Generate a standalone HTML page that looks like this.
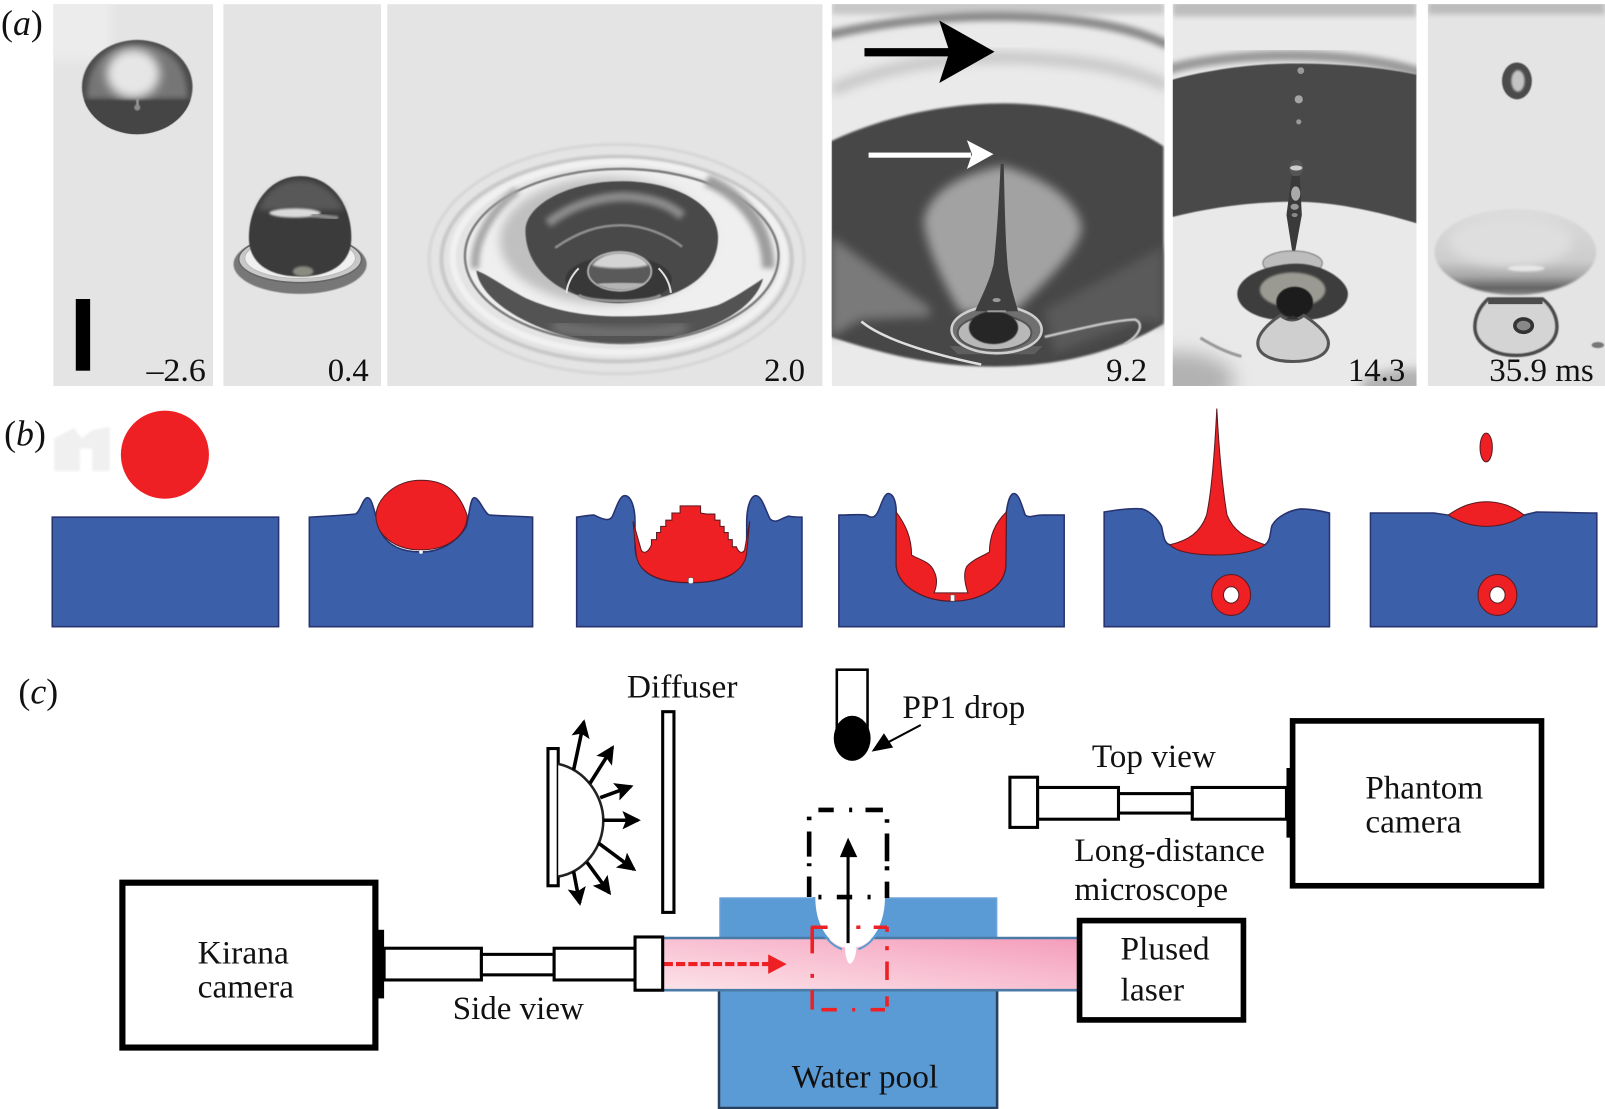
<!DOCTYPE html>
<html lang="en"><head><meta charset="utf-8"><title>Drop impact figure</title>
<style>
html,body{margin:0;padding:0;background:#fff;width:1605px;height:1109px;overflow:hidden}
svg{display:block}
text{font-family:"Liberation Serif",serif;fill:#111}
.n{font-size:32px;text-anchor:end}
.l{font-size:32px}
.p{font-size:35px}
.b{fill:#3c5fa9;stroke:#27336f;stroke-width:1.5}
.r{fill:#ee2024;stroke:#5a1a22;stroke-width:1}
.k{fill:#fff;stroke:#000;stroke-width:3}
</style></head><body>
<svg width="1605" height="1109" viewBox="0 0 1567 1083" preserveAspectRatio="none" xmlns="http://www.w3.org/2000/svg">
<defs>
<filter id="b05" x="-20%" y="-20%" width="140%" height="140%"><feGaussianBlur stdDeviation="0.6"/></filter>
<filter id="b1" x="-20%" y="-20%" width="140%" height="140%"><feGaussianBlur stdDeviation="1"/></filter>
<filter id="b2" x="-30%" y="-30%" width="160%" height="160%"><feGaussianBlur stdDeviation="2.5"/></filter>
<filter id="b3" x="-30%" y="-30%" width="160%" height="160%"><feGaussianBlur stdDeviation="5"/></filter>
<filter id="b4" x="-40%" y="-40%" width="180%" height="180%"><feGaussianBlur stdDeviation="9"/></filter>
<clipPath id="c1"><rect x="52" y="4" width="156" height="373"/></clipPath>
<clipPath id="c1d"><ellipse cx="134" cy="85" rx="54" ry="46"/></clipPath>
<clipPath id="c2"><rect x="218" y="4" width="154" height="373"/></clipPath>
<clipPath id="c3"><rect x="378" y="4" width="425" height="373"/></clipPath>
<clipPath id="c3h"><ellipse cx="607" cy="235" rx="94" ry="60"/></clipPath>
<clipPath id="c4"><rect x="812" y="4" width="325" height="373"/></clipPath>
<clipPath id="c5"><rect x="1145" y="4" width="238" height="373"/></clipPath>
<clipPath id="c6"><rect x="1394" y="4" width="173" height="373"/></clipPath>
<linearGradient id="pink" x1="0" y1="1" x2="1" y2="0"><stop offset="0" stop-color="#fce3ea"/><stop offset="0.55" stop-color="#f8bdd0"/><stop offset="1" stop-color="#f49dba"/></linearGradient>
<linearGradient id="d6" x1="0" y1="0" x2="0" y2="1"><stop offset="0" stop-color="#dcdcdc"/><stop offset="0.6" stop-color="#cdcdcd"/><stop offset="0.78" stop-color="#a8a8a8"/><stop offset="0.92" stop-color="#626262"/><stop offset="1" stop-color="#8a8a8a"/></linearGradient>
<marker id="ah" viewBox="0 0 10 10" refX="8.5" refY="5" markerUnits="userSpaceOnUse" markerWidth="18" markerHeight="18" orient="auto"><path d="M0 0L10 5L0 10L2 5Z" fill="#000"/></marker>
</defs>
<rect width="1567" height="1083" fill="#fff"/>

<!-- panel a -->
<g clip-path="url(#c1)">
<rect x="52" y="4" width="156" height="373" fill="#e4e4e4"/>
<rect x="44" y="-4" width="64" height="62" fill="#ececec" filter="url(#b3)"/>
<ellipse cx="134" cy="85" rx="54" ry="46" fill="#4c4c4c" filter="url(#b05)"/>
<g clip-path="url(#c1d)">
<path d="M85 96C85 60 105 44 134 44C163 44 183 60 183 96Z" fill="#767676" filter="url(#b2)"/>
<ellipse cx="130" cy="72" rx="26" ry="24" fill="#e6e6e6" filter="url(#b3)"/>
<rect x="76" y="98" width="116" height="40" fill="#454545" filter="url(#b1)"/>
<ellipse cx="134" cy="105" rx="3" ry="3" fill="#8c8c8c" filter="url(#b05)"/>
<rect x="133" y="96" width="2.5" height="7" fill="#999" filter="url(#b05)"/>
</g>
<rect x="74" y="292" width="14" height="70" fill="#000"/>
</g>
<g clip-path="url(#c2)">
<rect x="218" y="4" width="154" height="373" fill="#e4e4e4"/>
<ellipse cx="293" cy="258" rx="65" ry="29" fill="#777" filter="url(#b05)"/>
<ellipse cx="293" cy="253" rx="60" ry="23" fill="#c8c8c8" stroke="#666" stroke-width="1.5"/>
<ellipse cx="293" cy="252" rx="54" ry="20" fill="#f0f0f0" stroke="#bbb" stroke-width="1"/>
<path d="M243 232C243 198 265 172 293 172C322 172 343 198 343 232C343 258 322 270 293 270C264 270 243 258 243 232Z" fill="#3b3b3b" filter="url(#b05)"/>
<path d="M252 205C262 182 278 176 293 176C308 176 326 185 336 205Z" fill="#585858" filter="url(#b2)"/>
<ellipse cx="288" cy="208" rx="25" ry="4.5" fill="#dadada" filter="url(#b1)"/>
<path d="M304 210L330 213" stroke="#8c8c8c" stroke-width="4" filter="url(#b1)"/>
<ellipse cx="296" cy="265" rx="10" ry="5" fill="#8a8a80" filter="url(#b1)"/>
</g>
<g clip-path="url(#c3)">
<rect x="378" y="4" width="425" height="373" fill="#e4e4e4"/>
<ellipse cx="602" cy="253" rx="183" ry="112" fill="none" stroke="#d6d6d6" stroke-width="3" filter="url(#b1)"/>
<ellipse cx="602" cy="253" rx="171" ry="100" fill="none" stroke="#c8c8c8" stroke-width="4" filter="url(#b1)"/>
<ellipse cx="604" cy="251" rx="162" ry="93" fill="none" stroke="#f1f1f1" stroke-width="6" filter="url(#b1)"/>
<ellipse cx="607" cy="250" rx="153" ry="85" fill="#efefef" stroke="#7d7d7d" stroke-width="2.5" filter="url(#b05)"/>
<path d="M690 176C728 192 750 225 750 262" fill="none" stroke="#9d9d9d" stroke-width="12" filter="url(#b2)"/>
<path d="M505 186C480 205 462 235 464 262" fill="none" stroke="#a4a4a4" stroke-width="8" filter="url(#b2)"/>
<path d="M465 264C470 300 540 335 604 335C670 335 735 310 745 272C730 282 715 292 701 298C670 307 635 309 604 309C570 309 540 303 513 291C495 282 480 270 465 264Z" fill="#525252" filter="url(#b05)"/>
<path d="M540 318C580 328 640 328 670 319" fill="none" stroke="#7c7c7c" stroke-width="9" filter="url(#b3)"/>
<ellipse cx="592" cy="235" rx="104" ry="62" fill="#c0c0c0" filter="url(#b3)"/>
<path d="M513 225C513 200 555 177 607 177C660 177 701 200 701 232C701 268 665 295 607 295C550 295 513 265 513 225Z" fill="#4a4a4a" filter="url(#b05)"/>
<g clip-path="url(#c3h)">
<path d="M535 218C560 198 590 192 610 192C635 193 655 200 666 211" fill="none" stroke="#8c8c8c" stroke-width="9" filter="url(#b2)"/>
<path d="M542 242C565 226 585 220 606 220C630 220 652 230 666 241" fill="none" stroke="#8e8e8e" stroke-width="2.5" filter="url(#b05)"/>
</g>
<ellipse cx="604" cy="273" rx="52" ry="23" fill="#383838" filter="url(#b05)"/>
<path d="M553 286C554 277 558 269 565 262M655 286C654 277 650 269 643 262" fill="none" stroke="#e0e0e0" stroke-width="2"/>
<path d="M565 288C575 296 635 296 645 288" fill="none" stroke="#8f8f8f" stroke-width="3" filter="url(#b05)"/>
<ellipse cx="605" cy="265" rx="31" ry="19" fill="#5a5a5a" stroke="#bdbdbd" stroke-width="1.5" filter="url(#b05)"/>
<path d="M578 259C585 250 595 247 605 247C617 247 628 251 633 259C620 263 590 263 578 259Z" fill="#d4d4d4" filter="url(#b1)"/>
<path d="M583 277C595 285 618 285 630 277C620 276 595 276 583 277Z" fill="#b4b4b4" filter="url(#b05)"/>
</g>
<g clip-path="url(#c4)">
<rect x="812" y="4" width="325" height="373" fill="#eaeaea"/>
<rect x="812" y="0" width="325" height="14" fill="#c8c8c8" filter="url(#b2)"/>
<path d="M810 34C870 20 925 16 971 16C1040 16 1100 24 1140 44" fill="none" stroke="#8a8a8a" stroke-width="9" filter="url(#b2)"/>
<path d="M812 88C870 62 930 56 985 56C1050 58 1100 65 1140 84" fill="none" stroke="#c6c6c6" stroke-width="11" filter="url(#b3)"/>
<path d="M811 138C860 115 920 101 981 101C1040 101 1100 118 1136 143V316C1090 345 1030 358 971 358C910 358 860 345 811 329Z" fill="#474747" filter="url(#b1)"/>
<path d="M811 231L906 299L909 309L841 312L811 329Z" fill="#7a7a7a" filter="url(#b3)"/>
<path d="M1136 241L1020 303L1030 345L1117 312L1136 316Z" fill="#5a5a5a" filter="url(#b3)"/>
<path d="M978 162C940 170 908 185 902 215C903 240 925 285 938 305L990 305C1010 285 1056 245 1056 221C1050 190 1010 170 978 162Z" fill="#a2a2a2" filter="url(#b3)"/>
<path d="M841 314C860 330 905 345 958 356" fill="none" stroke="#dedede" stroke-width="2.5"/>
<path d="M1020 329C1050 322 1085 313 1108 312C1118 316 1112 328 1098 336" fill="none" stroke="#c4c4c4" stroke-width="2.5" filter="url(#b05)"/>
<path d="M927 338L1018 338L1010 346L935 346Z" fill="#5e5e5e"/>
<ellipse cx="973" cy="322" rx="44" ry="23" fill="#707070" stroke="#cfcfcf" stroke-width="2.5"/>
<ellipse cx="971" cy="325" rx="36" ry="17" fill="#b8b8b8" stroke="#555" stroke-width="2"/>
<ellipse cx="970" cy="320" rx="24" ry="16" fill="#272727" filter="url(#b05)"/>
<path d="M977 160L980 160C981 210 982 240 984 262C986 278 990 290 994 304L952 304C958 290 966 275 970 258C973 235 975 200 977 160Z" fill="#3f3f3f"/>
<ellipse cx="973" cy="293" rx="4" ry="2" fill="#999"/><rect x="964" y="303" width="18" height="2" fill="#999"/>
<path d="M844 47H927V55H844Z" fill="#000"/>
<path d="M917 20L971 50.5L917 81L927 50.5Z" fill="#000"/>
<rect x="848" y="149" width="100" height="5" fill="#fff"/>
<path d="M944 137L970 150.5L944 165L949 150.5Z" fill="#fff"/>
</g>
<g clip-path="url(#c5)">
<rect x="1145" y="4" width="238" height="373" fill="#e9e9e9"/>
<rect x="1145" y="0" width="238" height="16" fill="#bdbdbd" filter="url(#b2)"/>
<path d="M1140 68C1200 50 1320 48 1390 72" fill="none" stroke="#9a9a9a" stroke-width="10" filter="url(#b2)"/>
<path d="M1144 78C1180 68 1225 62 1264 62C1310 62 1350 66 1383 73V218C1340 205 1300 197 1264 197C1220 197 1180 203 1144 212Z" fill="#484848" filter="url(#b05)"/>
<ellipse cx="1150" cy="372" rx="55" ry="28" fill="#b2b2b2" filter="url(#b4)"/>
<ellipse cx="1378" cy="378" rx="50" ry="18" fill="#b2b2b2" filter="url(#b3)"/>
<path d="M1172 330C1185 338 1200 345 1212 348" stroke="#9a9a9a" stroke-width="3" fill="none" filter="url(#b05)"/>
<circle cx="1270" cy="69" r="3.3" fill="#999"/><circle cx="1268" cy="97" r="4" fill="#a4a4a4"/><circle cx="1268" cy="119" r="2.5" fill="#999"/>
<path d="M1261 172L1269 172L1271 210L1263.5 251L1262.5 251L1256 210Z" fill="#3a3a3a"/>
<ellipse cx="1265.5" cy="164" rx="7" ry="8" fill="#555"/><ellipse cx="1265.5" cy="164" rx="6" ry="2.5" fill="#ccc"/>
<ellipse cx="1265" cy="189" rx="4.5" ry="7" fill="#aaa"/>
<ellipse cx="1264" cy="202" rx="4" ry="3" fill="#999"/><ellipse cx="1264" cy="210" rx="3" ry="2" fill="#888"/>
<ellipse cx="1262" cy="257" rx="29" ry="12" fill="#bdbdbd" stroke="#777" filter="url(#b05)"/>
<path d="M1236 262C1260 256 1272 256 1290 262C1305 268 1316 278 1316 287C1316 300 1300 310 1280 312L1244 312C1224 310 1208 300 1208 287C1208 276 1220 267 1236 262Z" fill="#3e3e3e" filter="url(#b05)"/>
<ellipse cx="1262" cy="283" rx="32" ry="17" fill="#9a9a92" filter="url(#b1)"/>
<ellipse cx="1264" cy="295" rx="18" ry="15" fill="#1f1f1f" filter="url(#b05)"/>
<path d="M1250 308C1238 316 1228 326 1228 335C1228 348 1245 353 1262 353C1280 353 1297 348 1297 335C1297 326 1285 316 1273 308C1265 314 1258 314 1250 308Z" fill="#cfcfcf" stroke="#555" stroke-width="3"/>
<path d="M1255 312L1262 308L1269 312Z" fill="#333"/>
</g>
<g clip-path="url(#c6)">
<rect x="1394" y="4" width="173" height="373" fill="#e4e4e4"/>
<rect x="1394" y="0" width="173" height="14" fill="#bcbcbc" filter="url(#b2)"/>
<ellipse cx="1481" cy="79" rx="14.6" ry="18" fill="#4c4c4c" filter="url(#b05)"/>
<ellipse cx="1482" cy="79" rx="6.5" ry="10.5" fill="#c4c4c4" filter="url(#b1)"/>
<ellipse cx="1479.5" cy="246" rx="79" ry="42" fill="url(#d6)" filter="url(#b1)"/>
<ellipse cx="1475" cy="236" rx="60" ry="24" fill="#dedede" filter="url(#b3)"/>
<ellipse cx="1490" cy="262" rx="18" ry="3" fill="#e6e6e6" filter="url(#b1)"/>
<path d="M1453 292H1506C1515 299 1520 309 1520 319C1520 336 1502 347 1480 347C1458 347 1440 336 1440 319C1440 309 1445 299 1453 292Z" fill="#d4d4d4" stroke="#4c4c4c" stroke-width="3.5" filter="url(#b05)"/>
<rect x="1453" y="291" width="53" height="6" fill="#4c4c4c"/>
<ellipse cx="1487.5" cy="318" rx="8.5" ry="6.5" fill="#888" stroke="#333" stroke-width="3.5"/>
<ellipse cx="1560" cy="337" rx="6" ry="3" fill="#777" filter="url(#b05)"/>
</g>
<text class="n" x="201" y="372" textLength="58" lengthAdjust="spacingAndGlyphs">–2.6</text>
<text class="n" x="360" y="372">0.4</text>
<text class="n" x="786" y="372">2.0</text>
<text class="n" x="1120" y="372">9.2</text>
<text class="n" x="1372" y="372">14.3</text>
<text x="1454" y="372" font-size="32" textLength="102" lengthAdjust="spacingAndGlyphs">35.9 ms</text>
<text class="p" x="1" y="34">(<tspan font-style="italic">a</tspan>)</text>
<text class="p" x="4" y="435">(<tspan font-style="italic">b</tspan>)</text>
<text class="p" x="18" y="687">(<tspan font-style="italic">c</tspan>)</text>

<!-- panel b -->
<path d="M53 460V428L72 418L80 428L90 420L107 417V460H90V438H78V460Z" fill="#f0f0f0" filter="url(#b1)"/>
<circle cx="161" cy="444" r="43" fill="#ee2024"/>
<rect class="b" x="51" y="505" width="221" height="107"/>

<path class="b" d="M302 505C320 504 340 503 347 502C352 500 354 486 359 486C364 486 366 505 372 520C380 535 395 539 411 539C430 539 445 530 455 515C458 505 459 486 463 486C468 486 473 502 478 503C490 504 505 504 520 505V612H302Z"/>
<path class="r" d="M411 469C435 469 448 480 456 503C457 520 440 537 411 537C385 537 367 522 367 504C367 488 385 469 411 469Z"/>
<circle cx="411" cy="539" r="1.8" fill="#fff"/>

<path class="b" d="M563 505C570 504 576 503 580 503C588 507 595 510 598 504C602 495 605 484 610 484C616 484 620 495 620 510L620 535C622 560 640 569 674 569C708 569 727 560 729 535L729 510C729 495 733 484 738 484C744 484 748 500 752 507C758 512 762 506 770 504C775 505 780 505 783 505V612H563Z"/>
<path class="r" d="M618 509L621 540C622 558 640 569 674 569C708 569 727 558 729 540L732 509L727 537C725 541 721 540 719 534H715V527H711V520H707V514H703V508H698V502H690L684 501V494H664V501H656V508H650V514H645V520H641V527H636V532C633 540 628 541 626 537Z"/>
<rect x="672" y="564" width="5" height="6" rx="2" fill="#fff" stroke="#555" stroke-width=".6"/>

<path class="b" d="M819 503C830 503 840 502 846 503C852 507 855 505 858 498C861 490 864 482 867 482C873 482 875 492 875 500L875 553C878 575 905 587 929 587C955 587 980 575 982 553L982.5 500C984 490 986 482 990 482C995 482 998 495 1001 503C1006 507 1010 502 1020 503C1028 503 1034 503 1039 503V612H819Z"/>
<path class="r" d="M875 500C884 512 890 525 890 542C898 547 908 548 912 558C916 566 914 574 912 579H945C942 570 940 560 944 553C950 546 960 543 966 539C966 525 970 512 982.5 500L982 553C980 575 955 587 929 587C905 587 878 575 875 553Z"/>
<rect x="928" y="581" width="4" height="6" fill="#fff" stroke="#555" stroke-width=".5"/>

<path class="b" d="M1078 500C1090 498 1105 496 1115 497C1122 499 1130 506 1134 514C1136 522 1136 530 1142 532L1235 532C1241 528 1240 518 1242 513C1247 504 1260 498 1270 497C1280 497 1290 499 1298 501V612H1078Z"/>
<path class="r" d="M1188 399C1186 440 1183 480 1178 503C1172 520 1160 528 1142 532C1150 540 1170 542 1188 542C1208 542 1228 538 1235 532C1215 525 1204 518 1198 503C1194 480 1190 440 1188 399Z"/>
<ellipse class="r" cx="1202" cy="581" rx="19" ry="20"/>
<ellipse cx="1202" cy="581" rx="7.5" ry="8" fill="#fff" stroke="#5a1a22"/>

<path class="b" d="M1338 501H1400L1414 503L1488 503L1500 500C1520 500 1540 501 1559 501V612H1338Z"/>
<path class="r" d="M1414 503C1425 495 1438 490 1451 490C1465 490 1478 495 1488 503C1478 510 1465 514 1451 514C1438 514 1425 510 1414 503Z"/>
<ellipse class="r" cx="1451" cy="437" rx="6" ry="14"/>
<ellipse class="r" cx="1462" cy="581" rx="19" ry="20"/>
<ellipse cx="1462" cy="581" rx="7.5" ry="8" fill="#fff" stroke="#5a1a22"/>

<!-- panel c -->
<rect x="703" y="877" width="270" height="205" fill="#5b9bd5" stroke="#6aa2d8" stroke-width="1.5"/>
<path d="M702 915V1082H973.5V915" fill="none" stroke="#27405f" stroke-width="2.5"/>
<rect x="647" y="916" width="406" height="51" fill="url(#pink)"/>
<path d="M647 916H1053M647 967H1053" stroke="#4a7ba7" stroke-width="2.5"/>
<path d="M795 876C795 900 810 925 825 925C825 935 828 941 830 941C832 941 836 935 836 925C850 925 866 900 865 876Z" fill="#fff"/>
<path d="M795 876C795 900 805 921 822 927M865 876C865 900 855 921 838 927" fill="none" stroke="#5b9bd5" stroke-width="2"/>
<path d="M790 797.5V801M790 812V836.5M790 843V846M790 856V876M866 800V803.5M866 814V841M866 846V850M866 861V877M799 791H814M829 791H832M845 791H862M799 876H802M817 876H832M847 876H850" fill="none" stroke="#000" stroke-width="4.5"/>
<path d="M793 905V931M793 951V955M793 967V986M866 905V910M866 924V928M866 939V957M866 973V983M792 905.5H808M836 905.5H840M853 905.5H866M802 986H817M832 986H835M850 986H864" fill="none" stroke="#ee2024" stroke-width="3.5"/>
<path d="M828 921V832" stroke="#000" stroke-width="3"/>
<path d="M820 837L828 818L837 837Z" fill="#000"/>
<path d="M648 941.5H752" stroke="#ee2024" stroke-width="4" stroke-dasharray="9 3"/>
<path d="M750 932L768 941.5L750 951Z" fill="#ee2024"/>

<rect x="119.500" y="862" width="247" height="161" fill="#fff" stroke="#000" stroke-width="6"/>
<rect x="367" y="908" width="8" height="67" fill="#000"/>
<rect class="k" x="375" y="926" width="95" height="31"/>
<rect class="k" x="470" y="932" width="71" height="20"/>
<rect class="k" x="541" y="926" width="79" height="31"/>
<rect class="k" x="620" y="915" width="27" height="52"/>

<rect x="1262" y="704" width="243" height="161" fill="#fff" stroke="#000" stroke-width="5.5"/>
<rect x="1256" y="750" width="6" height="68" fill="#000"/>
<rect class="k" x="1164" y="769" width="92" height="31"/>
<rect class="k" x="1092" y="775" width="72" height="19"/>
<rect class="k" x="1013" y="769" width="79" height="31"/>
<rect class="k" x="986" y="759" width="27" height="49"/>

<rect x="1054" y="899" width="160" height="97" fill="#fff" stroke="#000" stroke-width="5.5"/>

<rect class="k" x="535" y="731" width="10" height="134" stroke-width="2.5"/>
<path d="M545 746C572 752 589 778 589 801C589 828 570 852 545 856" fill="#fff" stroke="#222" stroke-width="2.5"/>
<g stroke="#000" stroke-width="3.5" fill="none">
<path d="M560 752L570 705" marker-end="url(#ah)"/>
<path d="M576 765L598 730" marker-end="url(#ah)"/>
<path d="M586 779L616 768" marker-end="url(#ah)"/>
<path d="M589 801L623 801" marker-end="url(#ah)"/>
<path d="M584 823L619 849" marker-end="url(#ah)"/>
<path d="M573 842L595 872" marker-end="url(#ah)"/>
<path d="M560 851L566 882" marker-end="url(#ah)"/>
</g>
<rect class="k" x="647" y="695" width="11" height="196"/>
<rect x="817" y="654" width="30" height="66" fill="#fff" stroke="#000" stroke-width="2.5"/>
<ellipse cx="832" cy="721" rx="18" ry="22" fill="#000"/>
<path d="M899 708L865 726" stroke="#000" stroke-width="2"/>
<path d="M851 734L863 716L872 730Z" fill="#000"/>

<text class="l" x="612" y="681" textLength="108" lengthAdjust="spacingAndGlyphs">Diffuser</text>
<text class="l" x="881" y="701" textLength="120" lengthAdjust="spacingAndGlyphs">PP1 drop</text>
<text class="l" x="1066" y="749" textLength="121" lengthAdjust="spacingAndGlyphs">Top view</text>
<text class="l" x="1049" y="841" textLength="186" lengthAdjust="spacingAndGlyphs">Long-distance</text>
<text class="l" x="1049" y="879" textLength="150" lengthAdjust="spacingAndGlyphs">microscope</text>
<text class="l" x="1333" y="780" textLength="115" lengthAdjust="spacingAndGlyphs">Phantom</text>
<text class="l" x="1333" y="813" textLength="94" lengthAdjust="spacingAndGlyphs">camera</text>
<text class="l" x="193" y="941" textLength="89" lengthAdjust="spacingAndGlyphs">Kirana</text>
<text class="l" x="193" y="974" textLength="94" lengthAdjust="spacingAndGlyphs">camera</text>
<text class="l" x="442" y="995" textLength="128" lengthAdjust="spacingAndGlyphs">Side view</text>
<text class="l" x="1094" y="937" textLength="87" lengthAdjust="spacingAndGlyphs">Plused</text>
<text class="l" x="1094" y="977" textLength="62" lengthAdjust="spacingAndGlyphs">laser</text>
<text class="l" x="773" y="1062" textLength="143" lengthAdjust="spacingAndGlyphs">Water pool</text>
</svg>
</body></html>
